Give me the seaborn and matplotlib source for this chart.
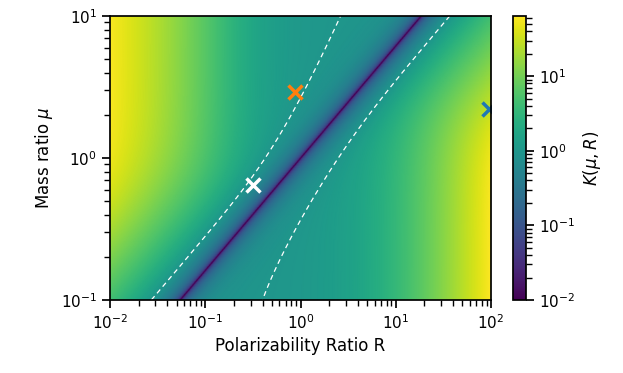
import numpy as np
import matplotlib
matplotlib.use("Agg")
import matplotlib.pyplot as plt
from matplotlib.colors import LogNorm
import seaborn as sns

# marker positions (R, mu)
marker_R = [0.88, 95.0, 0.32]
marker_mu = [2.9, 2.2, 0.65]
marker_colors = ["#ff7f0e", "#1f77b4", "white"]

# model of K(mu, R) on the log grid
valley_exp = 1.265      # valley: R = mu**valley_exp
right_a, right_c, right_p = 0.985, 0.10, 1.4
left_A, left_B, left_p = 0.10, 0.04, 1.3
blend_n = 2.0
contour_levels = [1.0]

r = np.linspace(-2, 2, 600)
m = np.linspace(-1, 1, 400)
R, MU = np.meshgrid(10 ** r, 10 ** m)

g = MU ** valley_exp
x = R / g
right = x >= 1
h = np.where(right, x - 1, 1 / x - 1)
Q = 1 / R
F = np.where(right, right_a + right_c * R ** right_p,
             1 + left_A * Q ** 2 / (1 + left_B * Q ** left_p))
h = np.maximum(h, 1e-4)
K = (h ** -blend_n + F ** -blend_n) ** (-1 / blend_n)

sns.set_theme(style="ticks", rc={"axes.edgecolor": "black", "text.color": "black",
                                 "axes.labelcolor": "black", "xtick.color": "black",
                                 "ytick.color": "black"})
fig = plt.figure(figsize=(6.23, 3.73), dpi=100)
ax = fig.add_axes([110 / 623, 73 / 373, 381 / 623, 284 / 373])
cax = fig.add_axes([513 / 623, 73 / 373, 13 / 623, 284 / 373])

cmap = sns.color_palette("viridis", as_cmap=True)
mesh = ax.pcolormesh(R, MU, K, norm=LogNorm(vmin=1e-2, vmax=K.max()),
                     cmap=cmap, shading="gouraud", rasterized=True)
ax.contour(R, MU, K, levels=contour_levels, colors="white",
           linestyles=[(0, (4, 3))], linewidths=0.9)

for xr, ym, c in zip(marker_R, marker_mu, marker_colors):
    ax.plot(xr, ym, marker="x", color=c, markersize=10, markeredgewidth=2.5,
            linestyle="none")

ax.set_xscale("log")
ax.set_yscale("log")
ax.set_xlim(1e-2, 1e2)
ax.set_ylim(1e-1, 1e1)
ax.set_xlabel("Polarizability Ratio R")
ax.set_ylabel(r"Mass ratio $\mu$")

cb = fig.colorbar(mesh, cax=cax)
cb.set_label(r"$K(\mu,R)$")

fig.savefig("out.png", dpi=100)
